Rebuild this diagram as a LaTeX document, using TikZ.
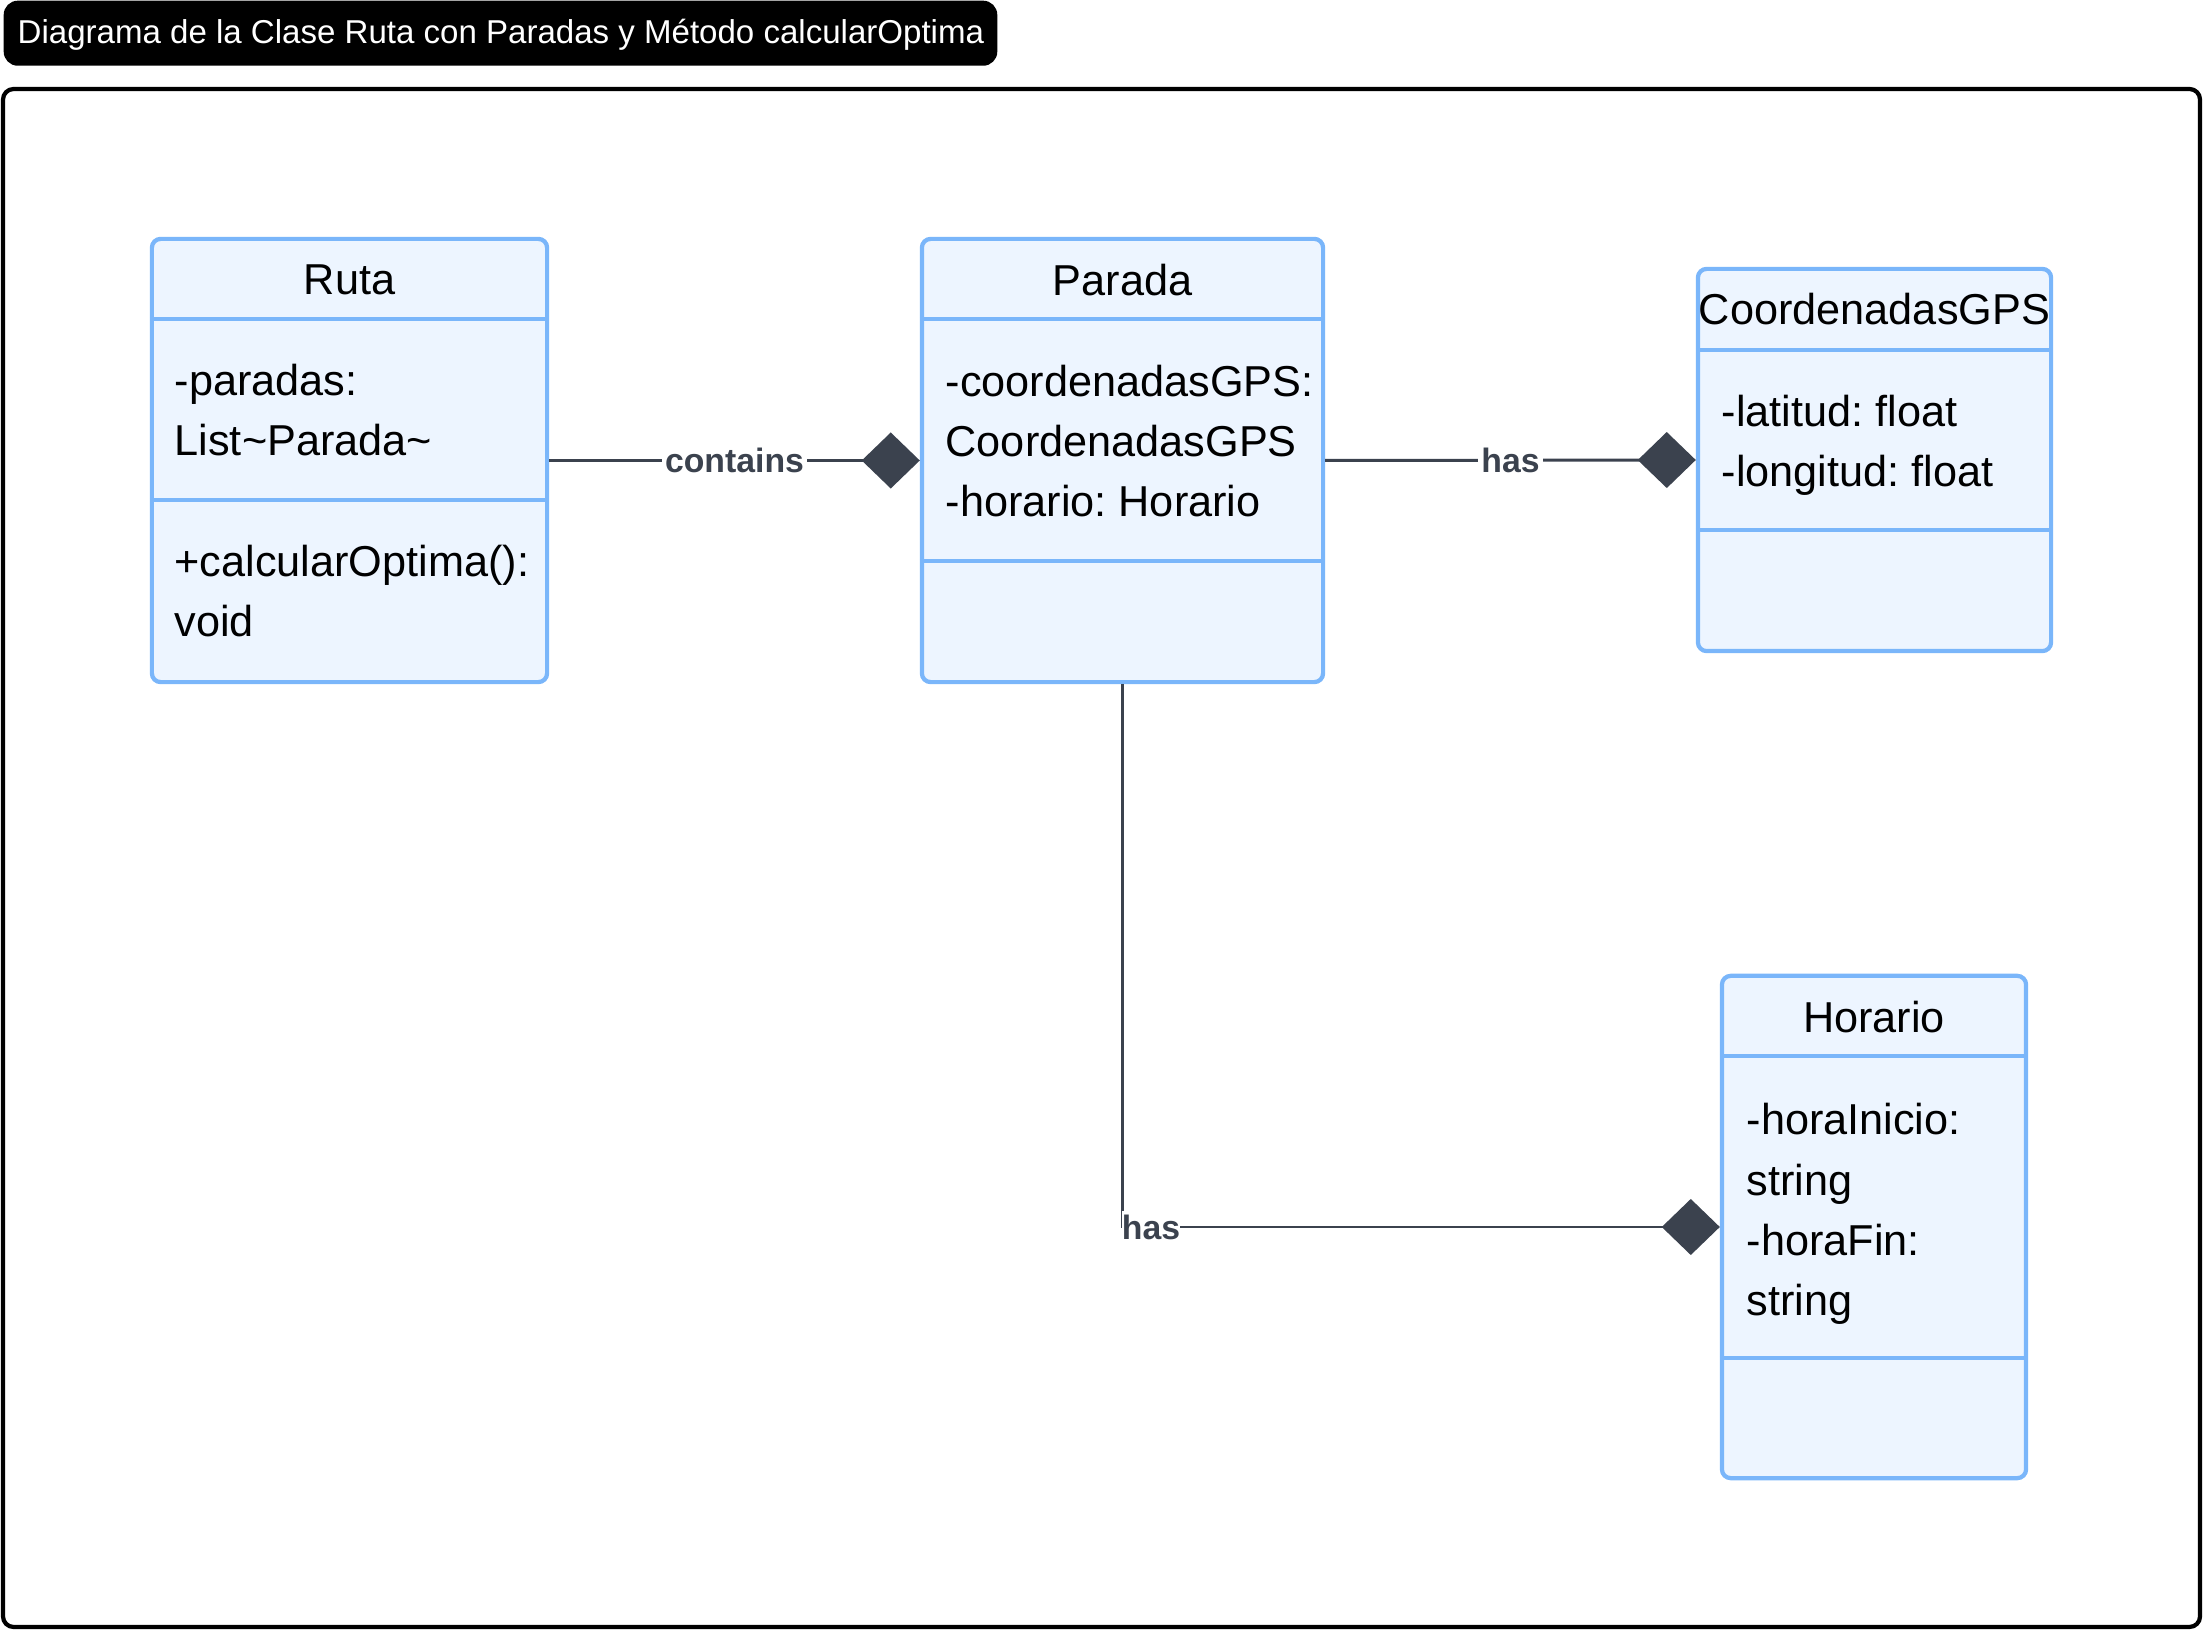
\documentclass[tikz,border=0pt]{standalone}
\usepackage{fontspec}
\setmainfont{Liberation Sans}
\usetikzlibrary{arrows.meta}
\definecolor{boxfill}{HTML}{EDF5FF}
\definecolor{boxline}{HTML}{7AB6FA}
\definecolor{edgecol}{HTML}{3B424E}
\frenchspacing
\tikzset{
  classbox/.style={draw=boxline, fill=boxfill, line width=1.2pt,
    rounded corners=2.5pt, inner sep=0pt},
  classline/.style={draw=boxline, line width=1.2pt},
  classname/.style={font=\fontsize{12.3}{17.1}\selectfont, inner sep=0pt},
  members/.style={anchor=west, align=left, inner sep=0pt,
    font=\fontsize{12.3}{17.1}\selectfont},
  rel/.style={draw=edgecol, line width=0.85pt,
    -{Diamond[length=0.58cm,width=0.56cm]}},
  rellabel/.style={fill=white, text=edgecol, inner sep=1pt,
    font=\bfseries\fontsize{9.6}{11}\selectfont},
}
\begin{document}
\begin{tikzpicture}[x=0.01cm,y=-0.01cm]
\useasboundingbox (0,0) rectangle (2205,1631);
\node[fill=black, rounded corners=4pt, anchor=north west,
  minimum width=9.93cm, minimum height=0.65cm, inner sep=0pt] (title) at (3,0) {};
\node[text=white, anchor=west, inner sep=0pt, font=\fontsize{9.4}{11}\selectfont]
  (titleText) at (17,35)
  {Diagrama de la Clase Ruta con Paradas y Método calcularOptima};
\draw[line width=1.2pt, rounded corners=3pt] (3,89) rectangle (2200,1627);
% Ruta
\node[classbox, minimum width=3.95cm, minimum height=4.43cm] (ruta) at (349.5,460.5) {};
\draw[classline] (ruta.west |- 0,319) -- (ruta.east |- 0,319);
\draw[classline] (ruta.west |- 0,500) -- (ruta.east |- 0,500);
\node[classname] (rutaName) at (349.5,280) {Ruta};
\node[members] (rutaAttr) at (174,410) {-paradas:\\List\textasciitilde Parada\textasciitilde};
\node[members] (rutaOps) at (174,591) {+calcularOptima():\\void};
% Parada
\node[classbox, minimum width=4.01cm, minimum height=4.43cm] (parada) at (1122.5,460.5) {};
\draw[classline] (parada.west |- 0,319) -- (parada.east |- 0,319);
\draw[classline] (parada.west |- 0,561) -- (parada.east |- 0,561);
\node[classname] (paradaName) at (1122.5,280) {Parada};
\node[members] (paradaAttr) at (945,441)
  {-coordenadasGPS:\\CoordenadasGPS\\-horario: Horario};
% CoordenadasGPS
\node[classbox, minimum width=3.53cm, minimum height=3.82cm] (gps) at (1874.5,460) {};
\draw[classline] (gps.west |- 0,350) -- (gps.east |- 0,350);
\draw[classline] (gps.west |- 0,530) -- (gps.east |- 0,530);
\node[classname] (gpsName) at (1874.5,309) {CoordenadasGPS};
\node[members] (gpsAttr) at (1721,445) {-latitud: float\\-longitud: float};
% Horario
\node[classbox, minimum width=3.04cm, minimum height=5.02cm] (horario) at (1874,1227) {};
\draw[classline] (horario.west |- 0,1056) -- (horario.east |- 0,1056);
\draw[classline] (horario.west |- 0,1358) -- (horario.east |- 0,1358);
\node[classname] (horarioName) at (1874,1017) {Horario};
\node[members] (horarioAttr) at (1746,1214)
  {-horaInicio:\\string\\-horaFin:\\string};
% relations
\draw[rel] (ruta.east) -- node[rellabel] (lblContains) {contains} (parada.west);
\draw[rel] (parada.east) -- node[rellabel] (lblGps) {has} (gps.west);
\draw[rel] (parada.south) |- node[rellabel, anchor=west, inner xsep=0pt,
  xshift=-0.6pt] (lblHorario) {has} (horario.west);
\end{tikzpicture}
\end{document}
